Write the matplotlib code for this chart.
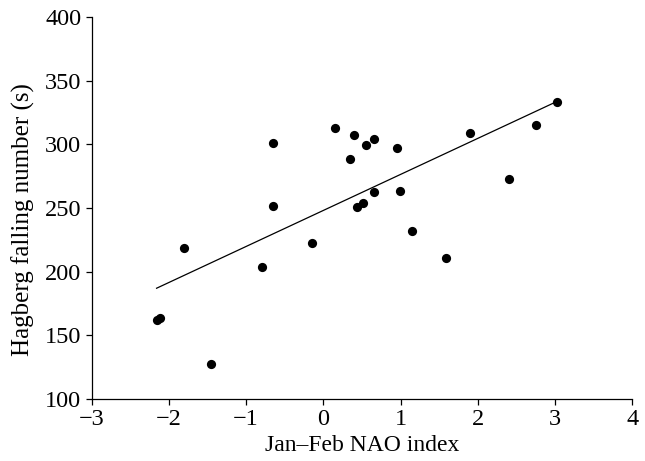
import matplotlib
matplotlib.use("Agg")
import matplotlib.pyplot as plt

# ------------------------------ data ------------------------------ #
naoIndex = [-2.16, -2.11, -1.80, -1.45, -0.80, -0.65, -0.65, -0.15, 0.15, 0.40, 0.35, 0.55,
            0.65, 0.95, 0.65, 0.99, 0.44, 0.51, 1.15, 1.59, 1.90, 2.41, 2.75, 3.02]
fallingNumber = [162.4, 164.0, 218.8, 127.5, 203.3, 301.4, 251.5, 222.2, 312.5, 307.6, 288.4, 299.7,
                 304.4, 297.0, 262.3, 263.1, 251.0, 253.9, 232.1, 210.4, 308.9, 273.0, 315.2, 333.5]
trendX = [-2.16, 3.0]
trendY = [187.0, 333.0]

xTicks = [-3, -2, -1, 0, 1, 2, 3, 4]
yTicks = [100, 150, 200, 250, 300, 350, 400]

# ------------------------------------- plotting ---------------------------------------- #
plt.rcParams["font.family"] = ["Liberation Serif", "DejaVu Serif"]
plt.rcParams["font.size"] = 17.5

fig = plt.figure(figsize=(6.45, 4.61), dpi=100)
ax = fig.add_axes([0.1422, 0.1345, 0.838, 0.8285])

ax.plot(trendX, trendY, color="black", linewidth=0.9)
ax.scatter(naoIndex, fallingNumber, s=44, color="black", zorder=3, linewidths=0)

ax.set_xlim(-3, 4)
ax.set_ylim(100, 400)
ax.set_xticks(xTicks)
ax.set_yticks(yTicks)
ax.spines["top"].set_visible(False)
ax.spines["right"].set_visible(False)
for side in ["left", "bottom"]:
    ax.spines[side].set_linewidth(0.9)
ax.tick_params(direction="out", length=4, width=0.9, pad=3.5)

ax.set_xlabel("Jan\u2013Feb NAO index", fontsize=17, labelpad=3)
ax.set_ylabel("Hagberg falling number (s)", fontsize=18, labelpad=2)
ax.yaxis.set_label_coords(-0.105, 0.47)

fig.savefig("out.png", dpi=100)
